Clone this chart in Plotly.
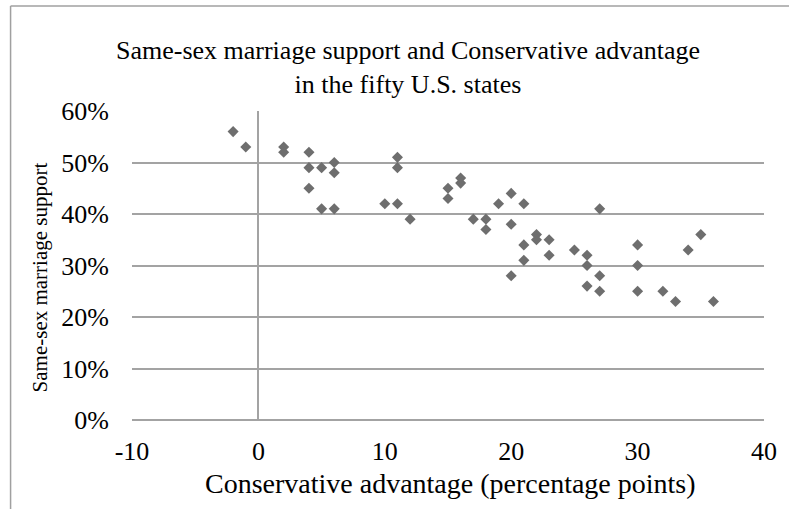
import plotly.graph_objects as go

# Data
conservative_advantage = [-2, -1, 2, 2, 4, 4, 5, 6, 6, 4, 5, 6, 10, 11, 11, 11, 12, 15, 15, 16,
                          16, 17, 18, 18, 19, 20, 20, 20, 21, 21, 21, 22, 22, 23, 23, 25, 26, 26, 26, 27,
                          27, 27, 30, 30, 30, 32, 33, 34, 35, 36]
marriage_support = [56, 53, 53, 52, 52, 49, 49, 50, 48, 45, 41, 41, 42, 42, 51, 49, 39, 45, 43, 47,
                    46, 39, 39, 37, 42, 44, 38, 28, 42, 34, 31, 36, 35, 35, 32, 33, 32, 30, 26, 41,
                    28, 25, 34, 30, 25, 25, 23, 33, 36, 23]

x_tick_vals = [-10, 0, 10, 20, 30, 40]
x_tick_text = ["-10", "0", "10", "20", "30", "40"]
y_tick_vals = [0, 10, 20, 30, 40, 50, 60]
y_tick_text = ["0%", "10%", "20%", "30%", "40%", "50%", "60%"]

title_text = "Same-sex marriage support and Conservative advantage<br>in the fifty U.S. states"
x_title = "Conservative advantage (percentage points)"
y_title = "Same-sex marriage support"

FONT = "Liberation Serif, Times New Roman, serif"
GRID = "#a3a3a3"

W, H = 789, 509
L, R, T, B = 132, 22, 111, 89
pw, ph = W - L - R, H - T - B


def px2paper_x(px):
    return (px - L) / pw


def py2paper_y(py):
    return (H - B - py) / ph


fig = go.Figure()
fig.add_trace(go.Scatter(
    x=conservative_advantage, y=marriage_support, mode="markers",
    marker=dict(symbol="diamond", size=8.5, color="#6e6e6e", line=dict(width=0)),
    showlegend=False, hoverinfo="x+y",
))

fig.update_layout(
    width=W, height=H,
    margin=dict(l=L, r=R, t=T, b=B),
    paper_bgcolor="white", plot_bgcolor="white",
    font=dict(family=FONT, color="black"),
    title=dict(text=title_text, x=408 / W, xanchor="center",
               y=1 - 59 / H, yanchor="middle", yref="container",
               font=dict(family=FONT, size=26, color="black")),
    xaxis=dict(range=[-10, 40], tickvals=x_tick_vals, ticktext=x_tick_text,
               showgrid=False, zeroline=True, zerolinecolor=GRID, zerolinewidth=1.5,
               showline=False, ticks="", tickfont=dict(family=FONT, size=26),
               ticklabelstandoff=13),
    yaxis=dict(range=[0, 60], tickvals=y_tick_vals, ticktext=y_tick_text,
               showgrid=True, gridcolor=GRID, gridwidth=1.5,
               zeroline=True, zerolinecolor=GRID, zerolinewidth=1.5,
               showline=False, ticks="", tickfont=dict(family=FONT, size=26),
               ticklabelstandoff=22),
)

# Axis titles as annotations for precise placement
fig.add_annotation(text=x_title, xref="paper", yref="paper",
                   x=px2paper_x(452), y=py2paper_y(483), xanchor="center", yanchor="middle",
                   showarrow=False, font=dict(family=FONT, size=28, color="black"))
fig.add_annotation(text=y_title, xref="paper", yref="paper", textangle=-90,
                   x=px2paper_x(40), y=py2paper_y(277), xanchor="center", yanchor="middle",
                   showarrow=False, font=dict(family=FONT, size=21, color="black"))

# Outer chart frame (cropped on right and bottom in the reference)
bx = px2paper_x(10)
ty = py2paper_y(6)
fig.add_shape(type="line", xref="paper", yref="paper", x0=bx, x1=bx, y0=py2paper_y(520), y1=ty,
              line=dict(color="#a0a0a0", width=1.5))
fig.add_shape(type="line", xref="paper", yref="paper", x0=bx, x1=px2paper_x(800), y0=ty, y1=ty,
              line=dict(color="#a0a0a0", width=1.5))

fig.write_html(
    "out.html",
    config={"displayModeBar": False},
    post_script="document.body.style.margin='0';document.body.style.overflow='hidden';",
)
